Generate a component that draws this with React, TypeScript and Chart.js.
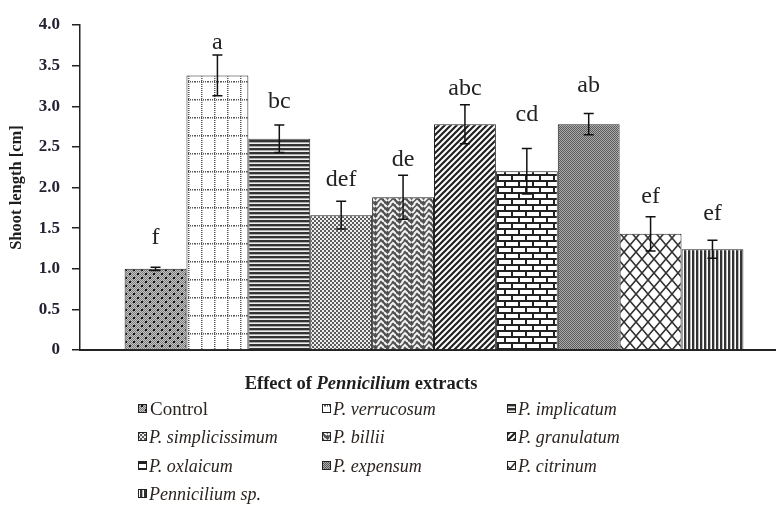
import { useEffect, useRef } from "react";
import { Chart, registerables } from "chart.js";

Chart.register(...registerables);

const categories = [""];
const seriesNames = [
  "Control",
  "P. verrucosum",
  "P. implicatum",
  "P. simplicissimum",
  "P. billii",
  "P. granulatum",
  "P. oxlaicum",
  "P. expensum",
  "P. citrinum",
  "Pennicilium sp.",
];
const shootLength = [1.0, 3.38, 2.6, 1.66, 1.88, 2.78, 2.2, 2.78, 1.43, 1.24];
const shootError = [0.02, 0.25, 0.17, 0.17, 0.27, 0.24, 0.28, 0.13, 0.21, 0.11];
const groupLetters = ["f", "a", "bc", "def", "de", "abc", "cd", "ab", "ef", "ef"];
const letterLevels = [1.3, 3.71, 2.98, 2.02, 2.26, 3.14, 2.82, 3.18, 1.81, 1.6];
const yTicks = [0, 0.5, 1.0, 1.5, 2.0, 2.5, 3.0, 3.5, 4.0];

type Draw = (g: CanvasRenderingContext2D, w: number, h: number) => void;

function makePattern(w: number, h: number, draw: Draw): CanvasPattern {
  const c = document.createElement("canvas");
  c.width = w;
  c.height = h;
  const g = c.getContext("2d")!;
  draw(g, w, h);
  return g.createPattern(c, "repeat")!;
}

function buildPatterns(): CanvasPattern[] {
  const p1 = makePattern(8, 8, (g) => {
    for (let x = 0; x < 8; x++)
      for (let y = 0; y < 8; y++) {
        g.fillStyle = (x + y) % 2 ? "#c4c4c4" : "#7c7c7c";
        g.fillRect(x, y, 1, 1);
      }
    g.fillStyle = "#111";
    g.fillRect(1, 1, 2, 2);
    g.fillRect(5, 5, 2, 2);
  });
  const p2 = makePattern(13, 18, (g) => {
    g.fillStyle = "#fff";
    g.fillRect(0, 0, 13, 18);
    g.fillStyle = "#555";
    for (let y = 0; y < 18; y += 2) g.fillRect(6, y, 1.5, 1);
    for (let x = 0; x < 13; x += 2) g.fillRect(x, 9, 1, 1.5);
  });
  const p3 = makePattern(1, 4, (g) => {
    g.fillStyle = "#333";
    g.fillRect(0, 0, 1, 2);
    g.fillStyle = "#aaa";
    g.fillRect(0, 2, 1, 1);
    g.fillStyle = "#eee";
    g.fillRect(0, 3, 1, 1);
  });
  const p4 = makePattern(4, 4, (g) => {
    g.fillStyle = "#5c5c5c";
    g.fillRect(0, 0, 4, 4);
    g.fillStyle = "#eeeeee";
    g.fillRect(0, 0, 2, 2);
    g.fillRect(2, 2, 2, 2);
  });
  const p5 = makePattern(12, 12, (g) => {
    g.fillStyle = "#505050";
    g.fillRect(0, 0, 12, 12);
    g.strokeStyle = "#f2f2f2";
    g.lineWidth = 2;
    for (let o = -6; o <= 12; o += 6) {
      g.beginPath();
      g.moveTo(0, o);
      g.lineTo(3, o + 3);
      g.moveTo(4, o + 3);
      g.lineTo(7, o);
      g.moveTo(6, o + 6);
      g.lineTo(9, o + 3);
      g.lineTo(12, o + 6);
      g.stroke();
    }
  });
  const p6 = makePattern(6, 6, (g) => {
    g.fillStyle = "#fff";
    g.fillRect(0, 0, 6, 6);
    g.strokeStyle = "#222";
    g.lineWidth = 2.2;
    g.beginPath();
    g.moveTo(0, 6);
    g.lineTo(6, 0);
    g.moveTo(-1, 1);
    g.lineTo(1, -1);
    g.moveTo(5, 7);
    g.lineTo(7, 5);
    g.stroke();
  });
  const p7 = makePattern(14, 12, (g) => {
    g.fillStyle = "#fff";
    g.fillRect(0, 0, 14, 12);
    g.fillStyle = "#222";
    g.fillRect(0, 0, 14, 2);
    g.fillRect(0, 6, 14, 2);
    g.fillRect(0, 0, 2, 6);
    g.fillRect(7, 6, 2, 6);
  });
  const p8 = makePattern(2, 2, (g) => {
    g.fillStyle = "#ababab";
    g.fillRect(0, 0, 2, 2);
    g.fillStyle = "#5a5a5a";
    g.fillRect(0, 0, 1, 1);
    g.fillRect(1, 1, 1, 1);
  });
  const p9 = makePattern(12, 14, (g) => {
    g.fillStyle = "#fff";
    g.fillRect(0, 0, 12, 14);
    g.strokeStyle = "#333";
    g.lineWidth = 1.6;
    g.beginPath();
    g.moveTo(0, 0);
    g.lineTo(12, 14);
    g.moveTo(12, 0);
    g.lineTo(0, 14);
    g.stroke();
  });
  const p10 = makePattern(4, 1, (g) => {
    g.fillStyle = "#fff";
    g.fillRect(0, 0, 4, 1);
    g.fillStyle = "#333";
    g.fillRect(0, 0, 2, 1);
    g.fillStyle = "#bbb";
    g.fillRect(2, 0, 1, 1);
  });
  return [p1, p2, p3, p4, p5, p6, p7, p8, p9, p10];
}

export default function App() {
  const ref = useRef<HTMLCanvasElement | null>(null);

  useEffect(() => {
    document.body.style.margin = "0";
    document.body.style.overflow = "hidden";
    const canvas = ref.current!;
    const patterns = buildPatterns();

    const errorBars = {
      id: "errorBars",
      afterDatasetsDraw(chart: any) {
        const ctx = chart.ctx as CanvasRenderingContext2D;
        const y = chart.scales.y;
        ctx.save();
        shootLength.forEach((v, i) => {
          const el = chart.getDatasetMeta(i).data[0];
          if (!el) return;
          const x = el.x;
          const yt = y.getPixelForValue(v + shootError[i]);
          const yb = y.getPixelForValue(v - shootError[i]);
          ctx.strokeStyle = "#111";
          ctx.lineWidth = 1.5;
          ctx.beginPath();
          ctx.moveTo(x, yt);
          ctx.lineTo(x, yb);
          ctx.moveTo(x - 5, yt);
          ctx.lineTo(x + 5, yt);
          ctx.moveTo(x - 5, yb);
          ctx.lineTo(x + 5, yb);
          ctx.stroke();
          ctx.fillStyle = "#222";
          ctx.font = "24px 'Liberation Serif', serif";
          ctx.textAlign = "center";
          ctx.textBaseline = "alphabetic";
          ctx.fillText(groupLetters[i], x, y.getPixelForValue(letterLevels[i]));
        });
        ctx.restore();
      },
    };

    const bottomLegend = {
      id: "bottomLegend",
      afterDraw(chart: any) {
        const ctx = chart.ctx as CanvasRenderingContext2D;
        ctx.save();
        const parts: [string, string][] = [
          ["Effect of ", "bold 18.5px 'Liberation Serif', serif"],
          ["Pennicilium", "italic bold 18.5px 'Liberation Serif', serif"],
          [" extracts", "bold 18.5px 'Liberation Serif', serif"],
        ];
        let total = 0;
        parts.forEach(([t, f]) => {
          ctx.font = f;
          total += ctx.measureText(t).width;
        });
        let tx = 361 - total / 2;
        ctx.fillStyle = "#1e1e1e";
        ctx.textBaseline = "alphabetic";
        ctx.textAlign = "left";
        parts.forEach(([t, f]) => {
          ctx.font = f;
          ctx.fillText(t, tx, 389);
          tx += ctx.measureText(t).width;
        });
        const colSwatch = [138, 322, 507];
        const colText = [149, 333, 518];
        const rowY = [409, 437, 466, 494];
        seriesNames.forEach((name, i) => {
          const r = Math.floor(i / 3);
          const c = i % 3;
          const cy = rowY[r];
          ctx.fillStyle = patterns[i];
          ctx.fillRect(colSwatch[c], cy - 5, 9, 9);
          ctx.strokeStyle = "#222";
          ctx.lineWidth = 1;
          ctx.strokeRect(colSwatch[c] + 0.5, cy - 4.5, 8, 8);
          ctx.fillStyle = "#2b2420";
          const isControl = name === "Control";
          ctx.font = isControl
            ? "19px 'Liberation Serif', serif"
            : "italic 18px 'Liberation Serif', serif";
          ctx.fillText(name, colText[c] + (isControl ? 1 : 0), cy + 6);
        });
        ctx.restore();
      },
    };

    const chart = new Chart(canvas, {
      type: "bar",
      data: {
        labels: categories,
        datasets: seriesNames.map((name, i) => ({
          label: name,
          data: [shootLength[i]],
          backgroundColor: patterns[i] as any,
          borderColor: "#222",
          borderWidth: 1,
          categoryPercentage: 0.874,
          barPercentage: 1,
        })),
      },
      options: {
        animation: false,
        responsive: false,
        layout: { padding: { top: 25, left: 0, right: 0, bottom: 148 } },
        plugins: {
          legend: { display: false },
          tooltip: { enabled: false },
        },
        scales: {
          x: {
            ticks: { display: false },
            grid: { display: false },
            border: { display: true, color: "#222", width: 2 },
          },
          y: {
            min: 0,
            max: 4,
            afterBuildTicks: (scale: any) => {
              scale.ticks = yTicks.map((v) => ({ value: v }));
            },
            afterFit: (scale: any) => {
              scale.width = 80;
            },
            ticks: {
              padding: 12,
              color: "#222233",
              font: { family: "'Liberation Serif', serif", size: 17, weight: "bold" },
              callback: (v: any) => (Number(v) === 0 ? "0" : Number(v).toFixed(1)),
            },
            grid: {
              display: true,
              drawOnChartArea: false,
              drawTicks: true,
              tickLength: 8,
              color: "#222",
              lineWidth: 1.5,
            },
            border: { display: true, color: "#222", width: 1.5 },
            title: {
              display: true,
              text: "Shoot length [cm]",
              color: "#1e1e1e",
              padding: { top: 7, bottom: 0 },
              font: { family: "'Liberation Serif', serif", size: 16.5, weight: "bold" },
            },
          },
        },
      },
      plugins: [errorBars, bottomLegend],
    });
    return () => chart.destroy();
  }, []);

  return (
    <div style={{ width: 776, height: 506, overflow: "hidden" }}>
      <canvas ref={ref} width={788} height={506} style={{ display: "block" }} />
    </div>
  );
}
